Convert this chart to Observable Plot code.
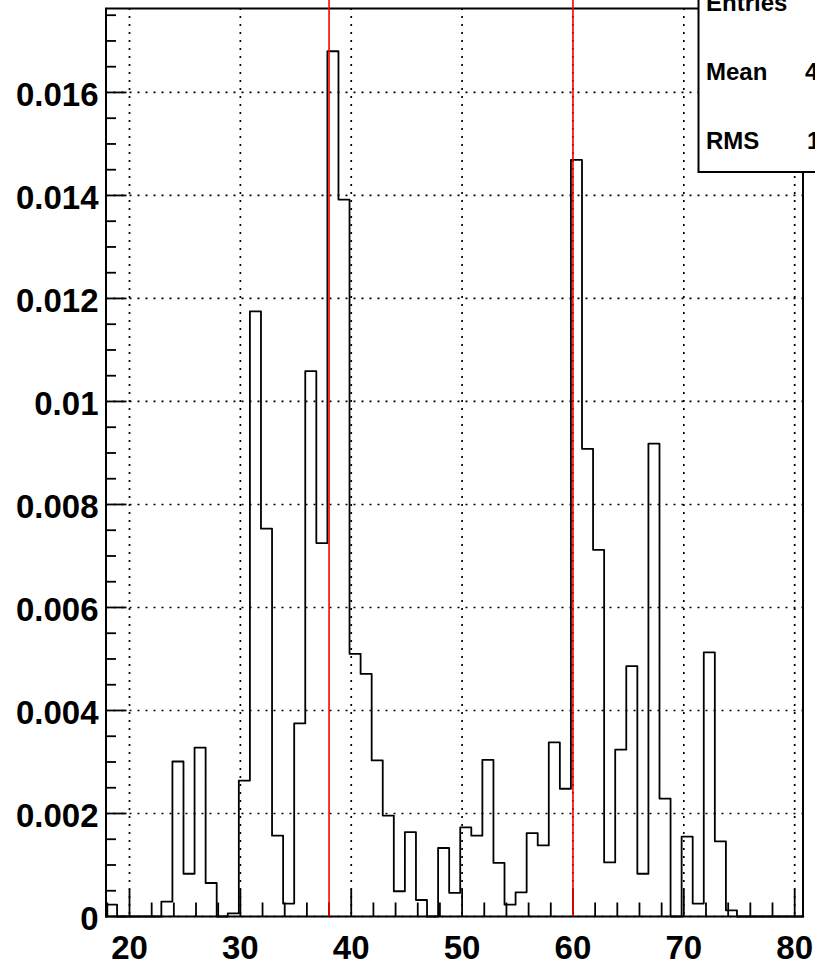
<!DOCTYPE html>
<html><head><meta charset="utf-8">
<script src="https://cdn.jsdelivr.net/npm/d3@7"></script>
<script src="https://cdn.jsdelivr.net/npm/@observablehq/plot@0.6"></script>
<style>
body{margin:0;background:#fff;}
#chart svg{display:block;}
</style>
</head><body><div id="chart"></div>
<script>
// ---- data ----
const binStart = 17.88;
const binWidth = 0.9985;
const binValues = [
  0.00023, 0, 0, 0, 0, 0.00029, 0.00301, 0.00083, 0.00328, 0.00065,
  0, 0.00006, 0.00264, 0.01175, 0.00753, 0.00157, 0.00025, 0.00375, 0.01059, 0.00725,
  0.0168, 0.01392, 0.0051, 0.00471, 0.00303, 0.00196, 0.00049, 0.00164, 0.00032, 0,
  0.00133, 0.00046, 0.00173, 0.00157, 0.00304, 0.00104, 0.00023, 0.00047, 0.00162, 0.00138,
  0.00338, 0.00248, 0.01469, 0.00908, 0.00712, 0.00105, 0.00324, 0.00486, 0.00083, 0.00918,
  0.00229, 0, 0.00155, 0.00025, 0.00513, 0.00146, 0.00012, 0, 0, 0,
  0, 0, 0
];
const xDomain = [17.88, 80.75];
const yDomain = [0, 0.01763];
const xMajorTicks = [20, 30, 40, 50, 60, 70, 80];
const xMinorTicks = [18, 22, 24, 26, 28, 32, 34, 36, 38, 42, 44, 46, 48, 52, 54, 56, 58, 62, 64, 66, 68, 72, 74, 76, 78];
const yMajorTicks = [0, 0.002, 0.004, 0.006, 0.008, 0.010, 0.012, 0.014, 0.016];
const yMinorTicks = [0.0005, 0.001, 0.0015, 0.0025, 0.003, 0.0035, 0.0045, 0.005, 0.0055,
  0.0065, 0.007, 0.0075, 0.0085, 0.009, 0.0095, 0.0105, 0.011, 0.0115, 0.0125, 0.013, 0.0135,
  0.0145, 0.015, 0.0155, 0.0165, 0.017, 0.0175];
const markerLines = [38, 60];
const statsLabels = ["Entries", "Mean", "RMS"];
const statsValues = ["", "4", "1"];

// ---- layout ----
const W = 815, H = 972;
const mL = 105.5, mR = 12.5, mT = 8, mB = 56;
const frameW = W - mL - mR, frameH = H - mT - mB;
const font = "'Liberation Sans', Arial, Helvetica, sans-serif";

const steps = [{x: binStart, y: 0}]
  .concat(binValues.map((v, i) => ({x: binStart + i * binWidth, y: v})))
  .concat([{x: binStart + binValues.length * binWidth, y: 0}]);

const fmtY = d => d === 0 ? "0" : String(+d.toFixed(3));

const chart = Plot.plot({
  width: W, height: H,
  marginLeft: mL, marginRight: mR, marginTop: mT, marginBottom: mB,
  style: {fontFamily: font, fontWeight: "bold", background: "#fff", overflow: "visible"},
  x: {domain: xDomain},
  y: {domain: yDomain},
  marks: [
    Plot.gridX(xMajorTicks, {stroke: "black", strokeOpacity: 1, strokeWidth: 1.7, strokeDasharray: "2,6"}),
    Plot.gridY(yMajorTicks, {stroke: "black", strokeOpacity: 1, strokeWidth: 1.7, strokeDasharray: "2,6"}),
    Plot.line(steps, {x: "x", y: "y", curve: "step-after", stroke: "black", strokeWidth: 1.8}),
    Plot.tickX(xMajorTicks, {x: d => d, insetTop: frameH - 27, stroke: "black", strokeWidth: 1.8}),
    Plot.tickX(xMinorTicks, {x: d => d, insetTop: frameH - 13.5, stroke: "black", strokeWidth: 1.8}),
    Plot.tickY(yMajorTicks, {y: d => d, insetRight: frameW - 21, stroke: "black", strokeWidth: 1.8}),
    Plot.tickY(yMinorTicks, {y: d => d, insetRight: frameW - 10.5, stroke: "black", strokeWidth: 1.8}),
    Plot.frame({stroke: "black", strokeWidth: 2}),
    Plot.axisX(xMajorTicks, {tickSize: 0, tickPadding: 19, fontSize: 33, fontWeight: "bold", fill: "black", label: null, tickFormat: d => String(d)}),
    Plot.axisY(yMajorTicks, {tickSize: 0, tickPadding: 7.5, dy: 3, fontSize: 33, fontWeight: "bold", fill: "black", label: null, tickFormat: fmtY}),
    Plot.ruleX(markerLines, {x: d => d, y1: yDomain[0], y2: yDomain[1] * 1.06, stroke: "#ff0000", strokeWidth: 1.6})
  ]
});
document.getElementById("chart").appendChild(chart);

// ---- statistics box (annotation, pixel-placed like ROOT's stat pad) ----
const svg = d3.select(chart);
const box = svg.append("g").attr("text-anchor", "start");
box.append("rect").attr("x", 698.5).attr("y", -20).attr("width", 140).attr("height", 192)
  .attr("fill", "#fff").attr("stroke", "black").attr("stroke-width", 2);
const rowBase = [11, 80, 149];
statsLabels.forEach((t, i) => {
  box.append("text").attr("x", 706).attr("y", rowBase[i]).text(t)
    .attr("text-anchor", "start")
    .attr("font-family", font).attr("font-weight", "bold").attr("font-size", 24).attr("fill", "black");
  if (statsValues[i]) box.append("text").attr("x", i === 1 ? 805 : 807).attr("y", rowBase[i]).text(statsValues[i])
    .attr("text-anchor", "start")
    .attr("font-family", font).attr("font-weight", "bold").attr("font-size", 24).attr("fill", "black");
});
</script>
</body></html>
